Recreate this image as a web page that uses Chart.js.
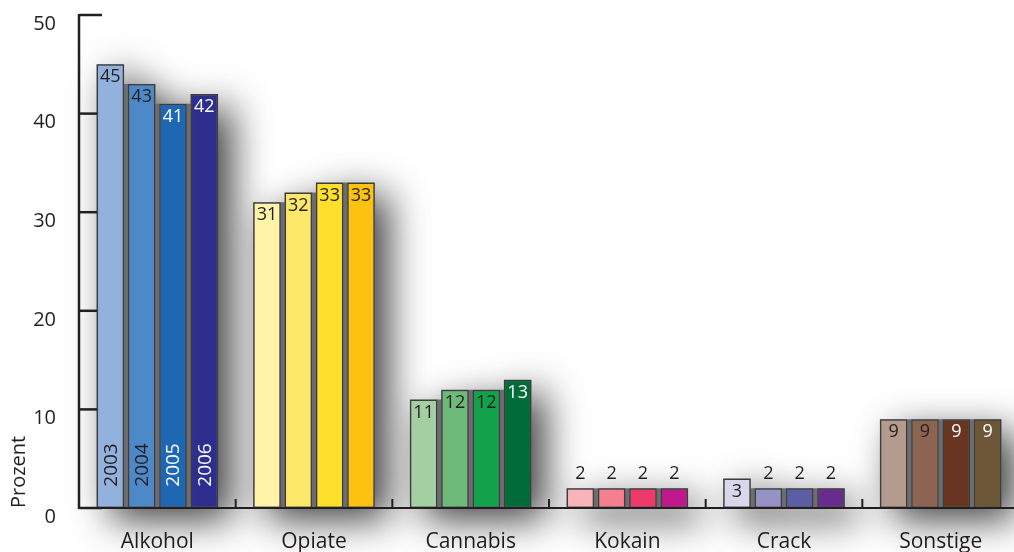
<!DOCTYPE html>
<html>
<head>
<meta charset="utf-8">
<script src="https://cdn.jsdelivr.net/npm/chart.js@4"></script>
<style>
html, body { margin: 0; padding: 0; background: #fff; overflow: hidden; }
#wrap { width: 1020px; height: 552px; }
</style>
</head>
<body>
<div id="wrap"><canvas id="drugChart"></canvas></div>
<script>
// Categories on the x-axis and the years shown as bars in each group
const categories = ['Alkohol', 'Opiate', 'Cannabis', 'Kokain', 'Crack', 'Sonstige'];
const years = ['2003', '2004', '2005', '2006'];

// Percent values per year (same order as categories)
const values2003 = [45, 31, 11, 2, 3, 9];
const values2004 = [43, 32, 12, 2, 2, 9];
const values2005 = [41, 33, 12, 2, 2, 9];
const values2006 = [42, 33, 13, 2, 2, 9];

// y-axis tick labels
const yTicks = [0, 10, 20, 30, 40, 50];

// Bar colours, one per category, for each year
const colors2003 = ['#92b1dd', '#fff3a8', '#a3cfa3', '#f9b4ba', '#d9d8ea', '#b59b8e'];
const colors2004 = ['#4d88c9', '#fde86a', '#6db97a', '#f47f8e', '#9693c4', '#8d6352'];
const colors2005 = ['#1e67b2', '#fee02c', '#11a24b', '#ee3a6a', '#5a5ea5', '#6a3520'];
const colors2006 = ['#2e2e8f', '#fdc20f', '#006d38', '#c0198c', '#662d8f', '#6d5636'];

const seriesValues = [values2003, values2004, values2005, values2006];
const seriesColors = [colors2003, colors2004, colors2005, colors2006];

const ink = '#231f20';
const fontFamily = "'Open Sans', 'Noto Sans', sans-serif";

// dark bar -> white text
function isDark(hex) {
    const r = parseInt(hex.substr(1, 2), 16);
    const g = parseInt(hex.substr(3, 2), 16);
    const b = parseInt(hex.substr(5, 2), 16);
    return 0.299 * r + 0.587 * g + 0.114 * b < 100;
}

// Soft grey shadow behind every group of bars
const barShadow = {
    id: 'barShadow',
    beforeDatasetsDraw(chart) {
        const c = chart.ctx;
        const metas = chart.data.datasets.map((d, i) => chart.getDatasetMeta(i));
        const base = chart.scales.y.getPixelForValue(0);
        c.save();
        c.shadowColor = 'rgba(0,0,0,0.75)';
        c.shadowBlur = 38;
        c.shadowOffsetX = 14;
        c.shadowOffsetY = 12;
        c.fillStyle = '#6d6d70';
        categories.forEach((cat, i) => {
            c.beginPath();
            metas.forEach((m, j) => {
                const b = m.data[i];
                const left = b.x - b.width / 2;
                c.rect(left, b.y, b.width, base - b.y);
                const next = metas[j + 1] ? metas[j + 1].data[i] : null;
                if (next) {
                    // fill the gap up to the lower of the two neighbours
                    const gapTop = Math.max(b.y, next.y);
                    const right = b.x + b.width / 2;
                    c.rect(right - 1, gapTop, next.x - next.width / 2 - right + 2, base - gapTop);
                }
            });
            c.fill();
        });
        c.restore();

        // y ticks point inward, under the bars
        const y = chart.scales.y;
        const x0 = chart.chartArea.left;
        c.save();
        c.strokeStyle = ink;
        c.lineWidth = 2.5;
        yTicks.forEach(v => {
            const py = y.getPixelForValue(v);
            c.beginPath();
            c.moveTo(x0, py);
            c.lineTo(x0 + 23, py);
            c.stroke();
        });
        c.restore();
    }
};

// Axis lines, category ticks and the numbers on the bars
const axesAndLabels = {
    id: 'axesAndLabels',
    afterDatasetsDraw(chart) {
        const c = chart.ctx;
        const area = chart.chartArea;
        const base = chart.scales.y.getPixelForValue(0);
        const top = chart.scales.y.getPixelForValue(50);

        c.save();
        c.strokeStyle = ink;
        c.lineWidth = 2.5;
        c.beginPath();
        c.moveTo(area.left, top - 1);
        c.lineTo(area.left, base + 1);
        c.stroke();
        c.lineWidth = 2;
        c.beginPath();
        c.moveTo(area.left, base);
        c.lineTo(area.right, base);
        c.stroke();

        // ticks between categories, pointing up
        const step = (area.right - area.left) / categories.length;
        for (let i = 1; i <= categories.length; i++) {
            const px = area.left + i * step;
            c.beginPath();
            c.moveTo(px, base - 9);
            c.lineTo(px, base);
            c.stroke();
        }

        // value labels
        c.textAlign = 'center';
        c.textBaseline = 'middle';
        chart.data.datasets.forEach((ds, j) => {
            const meta = chart.getDatasetMeta(j);
            meta.data.forEach((b, i) => {
                const v = ds.data[i];
                c.font = '18px ' + fontFamily;
                if (v >= 3) {
                    c.fillStyle = isDark(ds.backgroundColor[i]) ? '#ffffff' : ink;
                    c.fillText(String(v), b.x, b.y + 13);
                } else {
                    c.fillStyle = ink;
                    c.fillText(String(v), b.x, b.y - 14);
                }
                // year names inside the first group
                if (i === 0) {
                    c.save();
                    c.translate(b.x, base - 43);
                    c.rotate(-Math.PI / 2);
                    c.font = '19px ' + fontFamily;
                    c.fillStyle = isDark(ds.backgroundColor[i]) ? '#ffffff' : ink;
                    c.fillText(years[j], 0, 1);
                    c.restore();
                }
            });
        });
        c.restore();
    }
};

const ctx = document.getElementById('drugChart').getContext('2d');

new Chart(ctx, {
    type: 'bar',
    data: {
        labels: categories,
        datasets: years.map((yr, j) => ({
            label: yr,
            data: seriesValues[j],
            backgroundColor: seriesColors[j],
            borderColor: '#3d3d3f',
            borderWidth: 1.5,
            borderSkipped: false,
            categoryPercentage: 0.8,
            barPercentage: 0.88
        }))
    },
    options: {
        responsive: true,
        maintainAspectRatio: false,
        animation: false,
        layout: { padding: { top: 15, right: 1 } },
        plugins: {
            legend: { display: false },
            tooltip: { enabled: false }
        },
        scales: {
            x: {
                grid: { display: false },
                border: { display: false },
                ticks: {
                    color: ink,
                    font: { family: fontFamily, size: 21 },
                    padding: 13,
                    maxRotation: 0
                },
                afterFit(scale) {
                    scale.height = 44;
                    scale.paddingLeft = 0;
                    scale.paddingRight = 0;
                }
            },
            y: {
                min: 0,
                max: 50,
                grid: { display: false },
                border: { display: false },
                afterBuildTicks(scale) { scale.ticks = yTicks.map(v => ({ value: v })); },
                ticks: {
                    color: ink,
                    font: { family: fontFamily, size: 20 },
                    padding: 15,
                    labelOffset: 9
                },
                title: {
                    display: true,
                    text: 'Prozent',
                    align: 'start',
                    color: ink,
                    font: { family: fontFamily, size: 20 },
                    padding: { top: 7, bottom: 0 }
                },
                afterFit(scale) {
                    scale.width = 79;
                    scale.paddingTop = 0;
                    scale.paddingBottom = 0;
                }
            }
        }
    },
    plugins: [barShadow, axesAndLabels]
});
</script>
</body>
</html>
